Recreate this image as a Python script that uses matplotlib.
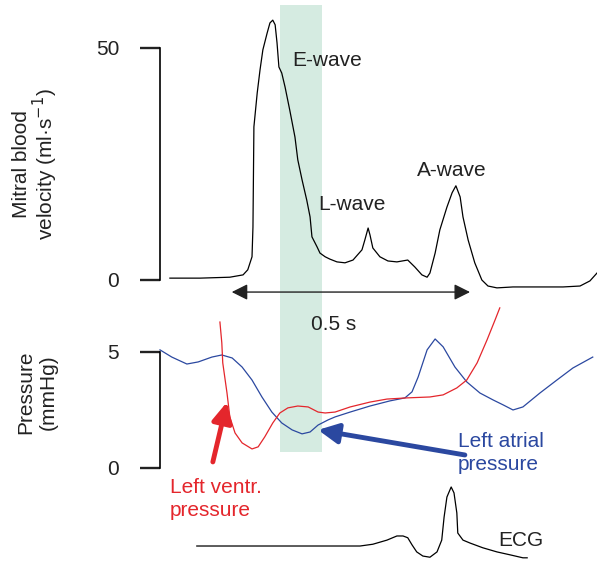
"""Mitral inflow velocity, LA/LV pressure and ECG over one cardiac cycle."""

import matplotlib
matplotlib.use("Agg")
import matplotlib.pyplot as plt

plt.rcParams["font.family"] = ["Liberation Sans", "DejaVu Sans"]

# --- mitral blood velocity (time in s, velocity in ml/s) ---
vel_t = [0.021, 0.085, 0.148, 0.176, 0.186, 0.195, 0.197, 0.198, 0.199, 0.206,
         0.212, 0.218, 0.227, 0.233, 0.239, 0.244, 0.248, 0.252, 0.258, 0.265,
         0.275, 0.286, 0.292, 0.301, 0.311, 0.318, 0.322, 0.333, 0.339, 0.350,
         0.360, 0.375, 0.392, 0.409, 0.428, 0.434, 0.441, 0.445, 0.451, 0.466,
         0.483, 0.502, 0.525, 0.540, 0.555, 0.566, 0.572, 0.583, 0.593, 0.608,
         0.619, 0.627, 0.636, 0.642, 0.653, 0.667, 0.682, 0.695, 0.714, 0.748,
         0.854, 0.890, 0.911, 0.926]
vel_v = [0.4, 0.4, 0.6, 1.1, 2.2, 5.0, 11.4, 22.2, 33.0, 40.3,
         45.3, 49.6, 53.2, 55.4, 56.0, 55.0, 51.1, 45.9, 44.6, 41.6,
         36.6, 30.8, 25.9, 21.6, 17.2, 13.6, 9.3, 7.1, 5.8, 5.0,
         4.5, 3.9, 3.7, 4.3, 6.5, 8.6, 11.2, 9.7, 6.9, 5.0,
         4.1, 3.9, 4.3, 2.8, 1.1, 0.6, 1.5, 5.8, 10.8, 15.7,
         18.8, 20.3, 17.9, 13.6, 8.6, 3.7, 0.0, -1.3, -1.7, -1.5,
         -1.5, -1.3, -0.2, 1.5]

# --- left atrial pressure (mmHg) ---
la_t = [0.0, 0.025, 0.057, 0.081, 0.110, 0.131, 0.153, 0.174, 0.195, 0.216,
        0.237, 0.258, 0.280, 0.301, 0.318, 0.335, 0.356, 0.371, 0.403, 0.445,
        0.487, 0.519, 0.534, 0.547, 0.566, 0.583, 0.600, 0.625, 0.650, 0.678,
        0.706, 0.727, 0.748, 0.769, 0.805, 0.841, 0.875, 0.917]
la_p = [5.09, 4.78, 4.48, 4.57, 4.78, 4.87, 4.74, 4.35, 3.79, 3.06,
        2.41, 1.94, 1.64, 1.47, 1.55, 1.85, 2.07, 2.20, 2.41, 2.67,
        2.89, 3.02, 3.28, 3.92, 5.09, 5.56, 5.22, 4.35, 3.71, 3.23,
        2.93, 2.72, 2.50, 2.63, 3.23, 3.79, 4.31, 4.78]

# --- left ventricular pressure (mmHg) ---
lv_t = [0.127, 0.131, 0.133, 0.142, 0.148, 0.159, 0.174, 0.195, 0.208, 0.222,
        0.239, 0.254, 0.271, 0.292, 0.314, 0.335, 0.350, 0.371, 0.403, 0.445,
        0.481, 0.523, 0.572, 0.600, 0.629, 0.650, 0.672, 0.693, 0.710, 0.720]
lv_p = [6.29, 5.39, 4.53, 3.23, 2.20, 1.51, 1.08, 0.82, 0.91, 1.34,
        1.94, 2.37, 2.59, 2.67, 2.63, 2.41, 2.37, 2.41, 2.63, 2.84,
        2.97, 3.02, 3.06, 3.15, 3.45, 3.79, 4.53, 5.52, 6.38, 6.90]

# --- ECG (arbitrary units) ---
ecg_t = [0.078, 0.381, 0.424, 0.451, 0.481, 0.502, 0.515, 0.525, 0.534, 0.544,
         0.557, 0.572, 0.587, 0.597, 0.602, 0.608, 0.617, 0.623, 0.629, 0.631,
         0.642, 0.657, 0.684, 0.714, 0.742, 0.769, 0.778]
ecg_v = [0.0, 0.0, 0.0, 0.03, 0.10, 0.17, 0.17, 0.14, 0.02, -0.10,
         -0.17, -0.19, -0.10, 0.10, 0.49, 0.83, 1.0, 0.90, 0.56, 0.22,
         0.10, 0.05, -0.03, -0.10, -0.15, -0.20, -0.20]

shade_t = (0.254, 0.343)          # highlighted interval
scale_bar_t = (0.152, 0.657)      # 0.5 s scale bar

RED = "#e4262c"
BLUE = "#2b48a0"
GREEN = "#d5ebe1"
INK = "#222222"
FS = 15
XLIM = (-0.339, 0.926)

fig = plt.figure(figsize=(5.97, 5.61), dpi=100)
ax_v = fig.add_axes([0, 0, 1, 1])
ax_p = fig.add_axes([0, 0, 1, 1])
ax_e = fig.add_axes([0, 0, 1, 1])

for ax in (ax_v, ax_p, ax_e):
    ax.set_facecolor("none")
    ax.set_xlim(*XLIM)
    ax.set_xticks([])
    for s in ("top", "right", "bottom"):
        ax.spines[s].set_visible(False)
ax_e.spines["left"].set_visible(False)
ax_e.set_yticks([])

ax_v.set_ylim(-60.56, 60.34)
ax_p.set_ylim(-4.01, 20.17)
ax_e.set_ylim(-0.254, 9.25)

for ax, top in ((ax_v, 50), (ax_p, 5)):
    ax.spines["left"].set_position(("data", 0.0))
    ax.spines["left"].set_bounds(0, top)
    ax.spines["left"].set_linewidth(1.2)
    ax.set_yticks([0, top])
    ax.tick_params(axis="y", direction="out", length=14.4, width=1.7,
                   pad=15, labelsize=FS, colors=INK)

# shaded band (figure-height fraction since axes fill the figure)
ax_v.axvspan(*shade_t, ymin=109 / 561, ymax=556 / 561, color=GREEN, lw=0, zorder=0)

line_kw = dict(lw=0.9, solid_joinstyle="round")
ax_v.plot(vel_t, vel_v, color="black", **line_kw)
ax_p.plot(la_t, la_p, color=BLUE, **line_kw)
ax_p.plot(lv_t, lv_p, color=RED, **line_kw)
ax_e.plot(ecg_t, ecg_v, color="black", **line_kw)

# scale bar
ax_v.annotate("", xy=(scale_bar_t[1], -2.6), xytext=(scale_bar_t[0], -2.6),
              arrowprops=dict(arrowstyle="<|-|>", color=INK, lw=1.0,
                              mutation_scale=24, shrinkA=0, shrinkB=0))
ax_v.text(0.367, -9.7, "0.5 s", fontsize=FS, ha="center", va="center", color=INK)

ax_v.text(0.280, 47.4, "E-wave", fontsize=FS, va="center", color=INK)
ax_v.text(0.335, 16.2, "L-wave", fontsize=FS, va="center", color=INK)
ax_v.text(0.544, 23.7, "A-wave", fontsize=FS, va="center", color=INK)

ax_v.text(0.060, 0.708, "Mitral blood\nvelocity (ml·s$^{-1}$)",
          transform=fig.transFigure, rotation=90, fontsize=FS,
          ha="center", va="center", linespacing=1.0, color=INK)
ax_p.text(0.062, 0.301, "Pressure\n(mmHg)", transform=fig.transFigure,
          rotation=90, fontsize=FS, ha="center", va="center",
          linespacing=1.2, color=INK)

# pressure labels with pointer arrows
ax_p.text(0.021, -1.34, "Left ventr.\npressure", color=RED, fontsize=FS,
          va="center", linespacing=1.25)
ax_p.annotate("", xy=(0.142, 2.84), xytext=(0.112, 0.26),
              arrowprops=dict(arrowstyle="-|>", color=RED, lw=3.5,
                              mutation_scale=30, shrinkA=0, shrinkB=0))
ax_p.text(0.631, 0.65, "Left atrial\npressure", color=BLUE, fontsize=FS,
          va="center", linespacing=1.25)
ax_p.annotate("", xy=(0.335, 1.64), xytext=(0.646, 0.56),
              arrowprops=dict(arrowstyle="-|>", color=BLUE, lw=3.5,
                              mutation_scale=30, shrinkA=0, shrinkB=0))

ax_e.text(0.716, 0.10, "ECG", fontsize=FS, va="center", color=INK)

fig.savefig("out.png", dpi=100)
